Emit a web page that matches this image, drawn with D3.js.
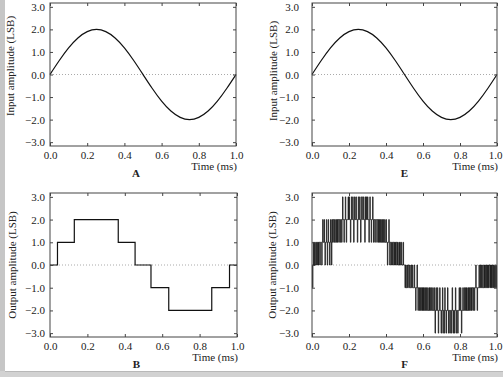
<!DOCTYPE html>
<html>
<head>
<meta charset="utf-8">
<script src="https://cdn.jsdelivr.net/npm/d3@7"></script>
<style>
  body { margin: 0; background: #fff; }
  svg { display: block; font-family: "Liberation Serif", "DejaVu Serif", serif; }
  .tick text { font-size: 11px; fill: #222; }
  .tick line { stroke: #444; }
</style>
</head>
<body>
<div id="chart"></div>
<script>
const sineTimes = [0, 0.05, 0.1, 0.15, 0.2, 0.25, 0.3, 0.35, 0.4, 0.45, 0.5,
                   0.55, 0.6, 0.65, 0.7, 0.75, 0.8, 0.85, 0.9, 0.95, 1.0];
const sineValues = [0, 0.62, 1.18, 1.62, 1.9, 2.0, 1.9, 1.62, 1.18, 0.62, 0,
                    -0.62, -1.18, -1.62, -1.9, -2.0, -1.9, -1.62, -1.18, -0.62, 0];

// Quantized output (panel B) - step edges and levels
const stepTimes = [0, 0.04, 0.13, 0.365, 0.455, 0.54, 0.635, 0.865, 0.96, 1.0];
const stepLevels = [0, 1, 2, 1, 0, -1, -2, -1, 0, 0];

// Dithered output (panel F), one level per 0.0025 ms sample
const ditherStep = 0.0025;
const ditherLevels = [
  0, -1, 0, 1, 0, 1, 0, 0, 1, 0, 1, 1, 0, 1, 0, 1, 1, 0, 1, 1,
  1, 0, 1, 2, 1, 1, 2, 1, 0, 1, 1, 2, 1, 0, 1, 2, 1, 1, 0, 1,
  2, 1, 0, 2, 1, 2, 2, 1, 2, 1, 1, 2, 2, 1, 2, 1, 2, 2, 1, 2,
  2, 1, 2, 2, 1, 2, 3, 2, 2, 1, 2, 2, 3, 2, 1, 2, 2, 2, 3, 2,
  3, 2, 2, 1, 2, 3, 2, 2, 3, 2, 1, 2, 3, 2, 2, 3, 2, 2, 1, 2,
  3, 2, 2, 3, 2, 1, 2, 3, 3, 2, 2, 3, 2, 2, 1, 3, 2, 3, 2, 2,
  3, 2, 2, 1, 2, 3, 2, 2, 1, 2, 2, 3, 2, 1, 2, 2, 1, 2, 2, 2,
  1, 2, 2, 1, 2, 1, 2, 2, 1, 2, 1, 1, 2, 1, 2, 1, 1, 2, 1, 1,
  2, 1, 1, 0, 1, 1, 2, 1, 0, 1, 1, 0, 1, 1, 0, 1, 1, 0, 1, 0,
  1, 0, 1, 1, 0, 1, 0, 0, 1, 0, 1, 0, 0, 1, 0, 0, 0, 1, 0, 0,
  0, -1, 0, -1, -1, 0, -1, 0, 0, -1, -1, 0, -1, -1, 0, -1, -1, 0, -1, -1,
  -1, 0, -1, -1, -2, -1, -1, 0, -1, -2, -1, -1, -2, -1, -2, -1, -1, -2, -1, -2,
  -1, -2, -1, -2, -2, -1, -2, -1, -2, -2, -1, -2, -2, -1, -2, -1, -2, -2, -1, -2,
  -2, -1, -2, -2, -1, -2, -3, -2, -1, -2, -2, -1, -2, -3, -2, -2, -1, -2, -2, -3,
  -2, -2, -1, -3, -2, -2, -3, -1, -2, -2, -3, -2, -2, -1, -2, -3, -2, -2, -3, -2,
  -2, -3, -2, -1, -2, -3, -2, -2, -3, -2, -1, -2, -3, -2, -2, -3, -2, -2, -1, -2,
  -2, -1, -2, -3, -2, -2, -1, -2, -2, -1, -2, -2, -1, -2, -1, -2, -2, -1, -2, -1,
  -2, -1, -1, -2, -1, -2, -1, -1, -2, -1, -1, -2, -1, -1, 0, -1, -1, -2, -1, -1,
  -1, 0, -1, -1, 0, -1, 0, -1, -1, 0, -1, -1, 0, -1, 0, -1, -1, 0, -1, 0,
  -1, 0, -1, 0, 0, -1, 0, -1, 0, -1, 0, 0, -1, 0, -1, 0, 0, -1, 0, -1,
  -1
];

const xTicks = [0, 0.2, 0.4, 0.6, 0.8, 1.0];
const yTicks = [-3, -2, -1, 0, 1, 2, 3];

const panels = [
  { id: "A", left: 50, right: 236, top: 3, bottom: 146, pad: 5, titleX: 10, titleY: 66,
    yTitle: "Input amplitude (LSB)", kind: "sine" },
  { id: "E", left: 312, right: 497, top: 3, bottom: 146, pad: 13, titleX: 273, titleY: 71,
    yTitle: "Input amplitude (LSB)", kind: "sine" },
  { id: "B", left: 50, right: 237, top: 193, bottom: 337, pad: 5, titleX: 12, titleY: 265,
    yTitle: "Output amplitude (LSB)", kind: "step" },
  { id: "F", left: 312, right: 497, top: 193, bottom: 337, pad: 13, titleX: 272, titleY: 265,
    yTitle: "Output amplitude (LSB)", kind: "dither" }
];

const width = 503, height = 377;
const svg = d3.select("#chart").append("svg")
  .attr("width", width)
  .attr("height", height);

// gray page edges
svg.append("rect").attr("x", 0).attr("y", 0).attr("width", 5).attr("height", height).attr("fill", "#c6c6c6");
svg.append("rect").attr("x", 0).attr("y", 371).attr("width", width).attr("height", 6).attr("fill", "#d2d2d2");
svg.append("line").attr("x1", 5).attr("x2", width).attr("y1", 371.5).attr("y2", 371.5).attr("stroke", "#b8b8b8");

const fmt = d3.format(".1f");

panels.forEach(p => {
  const x = d3.scaleLinear().domain([0, 1]).range([p.left, p.right]);
  const y = d3.scaleLinear().domain([-3.17, 3.17]).range([p.bottom, p.top]);
  const g = svg.append("g");

  // zero line
  g.append("line")
    .attr("x1", x(0)).attr("x2", x(1))
    .attr("y1", y(0)).attr("y2", y(0))
    .attr("stroke", "#aaa")
    .attr("stroke-dasharray", "1,2");

  // data
  let pts, curve;
  if (p.kind === "sine") {
    pts = sineTimes.map((t, i) => [t, sineValues[i]]);
    curve = d3.curveNatural;
  } else if (p.kind === "step") {
    pts = stepTimes.map((t, i) => [t, stepLevels[i]]);
    curve = d3.curveStepAfter;
  } else {
    pts = ditherLevels.map((v, i) => [i * ditherStep, v]);
    curve = d3.curveStepAfter;
  }
  const line = d3.line().x(d => x(d[0])).y(d => y(d[1])).curve(curve);
  g.append("path")
    .attr("d", line(pts))
    .attr("fill", "none")
    .attr("stroke", "#111")
    .attr("stroke-width", p.kind === "dither" ? 0.8 : 1.2);

  // axes with inward ticks
  const bottomAxis = g.append("g")
    .attr("transform", `translate(0,${p.bottom})`)
    .call(d3.axisBottom(x).tickValues(xTicks).tickFormat(fmt).tickSize(-3).tickPadding(5));
  const axes = [
    bottomAxis,
    g.append("g")
      .attr("transform", `translate(0,${p.top})`)
      .call(d3.axisTop(x).tickValues(xTicks).tickFormat("").tickSize(-3)),
    g.append("g")
      .attr("transform", `translate(${p.left},0)`)
      .call(d3.axisLeft(y).tickValues(yTicks).tickFormat(fmt).tickSize(-3).tickPadding(p.pad)),
    g.append("g")
      .attr("transform", `translate(${p.right},0)`)
      .call(d3.axisRight(y).tickValues(yTicks).tickFormat("").tickSize(-3))
  ];
  axes.forEach(a => a.attr("font-family", null).attr("font-size", null));
  g.selectAll(".domain").remove();

  // keep the last time label inside the page on the right panels
  if (p.right > 400) {
    bottomAxis.selectAll(".tick text").filter(d => d === 1).attr("dx", -2);
  }

  // frame
  g.append("rect")
    .attr("x", p.left).attr("y", p.top)
    .attr("width", p.right - p.left).attr("height", p.bottom - p.top)
    .attr("fill", "none")
    .attr("stroke", "#444")
    .attr("stroke-width", 1);

  // axis titles
  g.append("text")
    .attr("transform", `translate(${p.titleX},${p.titleY}) rotate(-90)`)
    .attr("text-anchor", "middle")
    .attr("dy", "0.35em")
    .attr("font-size", 11)
    .attr("fill", "#222")
    .text(p.yTitle);
  g.append("text")
    .attr("x", p.right + 1)
    .attr("y", p.bottom + 24)
    .attr("text-anchor", "end")
    .attr("font-size", 11)
    .attr("fill", "#222")
    .text("Time (ms)");
  g.append("text")
    .attr("x", (p.left + p.right) / 2 + (p.id === "E" || p.id === "F" ? 0 : -7))
    .attr("y", p.bottom + 31)
    .attr("text-anchor", "middle")
    .attr("font-size", 11)
    .attr("font-weight", "bold")
    .attr("fill", "#222")
    .text(p.id);
});
</script>
</body>
</html>
